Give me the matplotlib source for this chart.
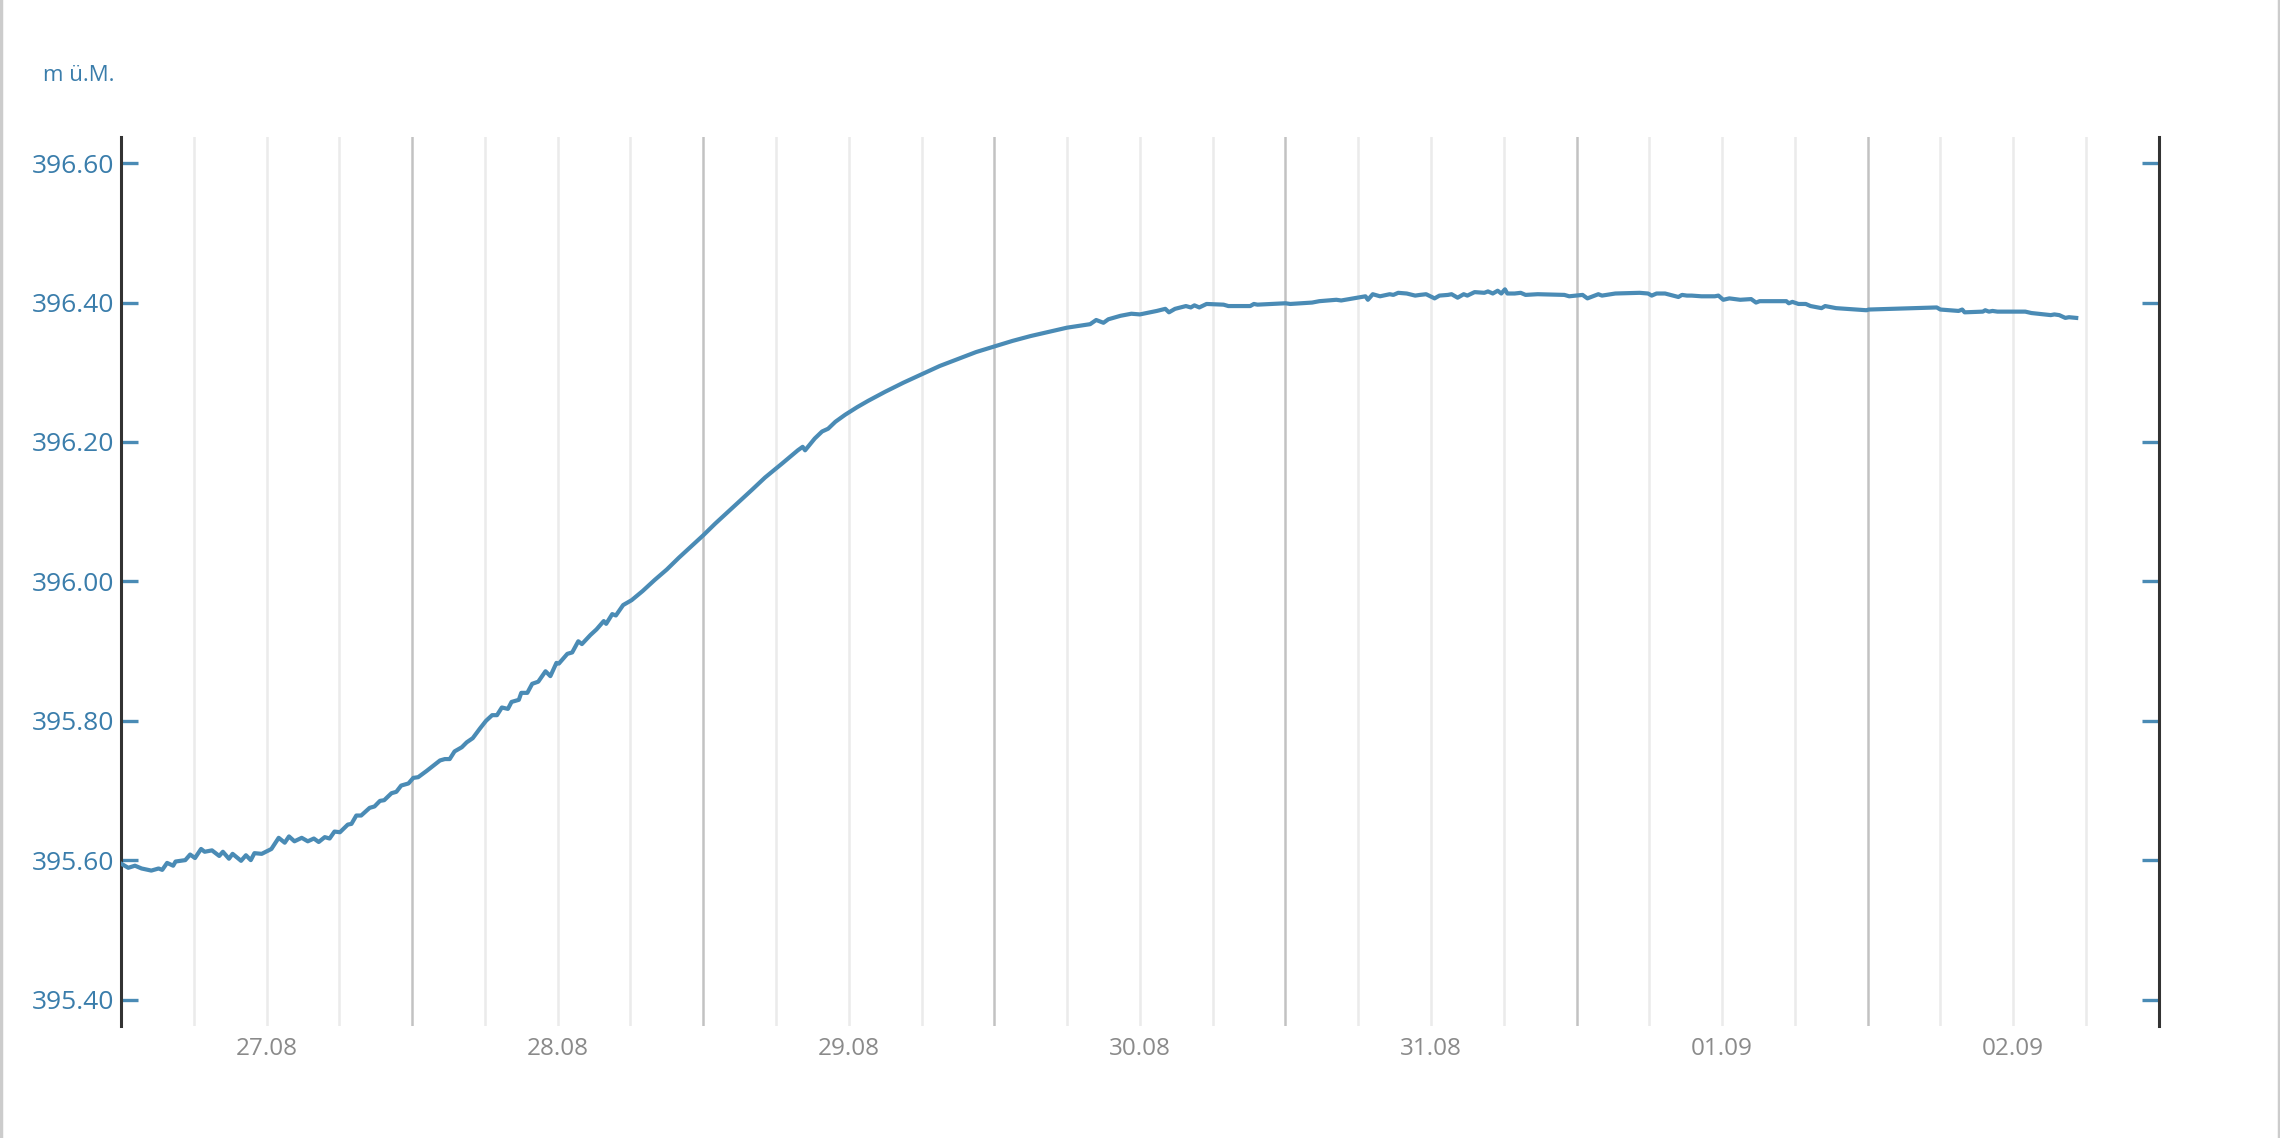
import matplotlib
matplotlib.use("Agg")
import matplotlib.pyplot as plt
from matplotlib.lines import Line2D

plt.rcParams["font.family"] = ["Open Sans", "DejaVu Sans"]

# Stunden ab 27.08 00:00 und Pegel in m ü.M.
zeit_h = [
    0.0, 0.6, 1.15, 1.7, 2.5, 3.1, 3.4, 3.8, 4.3, 4.5, 5.3, 5.7, 6.1, 6.6, 6.9,
    7.5, 8.1, 8.4, 8.9, 9.2, 9.9, 10.3, 10.7, 11.0, 11.6, 12.4, 13.0, 13.5,
    13.85, 14.3, 14.9, 15.4, 15.9, 16.3, 16.8, 17.2, 17.6, 18.05, 18.7, 19.0,
    19.4, 19.8, 20.5, 20.9, 21.35, 21.7, 22.3, 22.7, 23.1, 23.7, 24.1, 24.5,
    25.2, 26.3, 26.7, 27.1, 27.5, 28.1, 28.5, 29.0, 29.6, 30.1, 30.6, 31.0,
    31.4, 31.9, 32.2, 32.8, 33.0, 33.5, 33.9, 34.4, 35.0, 35.4, 35.9, 36.1,
    36.8, 37.2, 37.7, 38.0, 38.7, 39.2, 39.8, 40.0, 40.5, 40.8, 41.4, 42.1,
    43.0, 44.0, 45.0, 46.0, 47.0, 48.0, 49.0, 50.0, 51.0, 52.0, 53.1, 54.5,
    55.8, 56.2, 56.4, 57.2, 57.8, 58.3, 58.9, 59.7, 60.7, 61.6, 63.0, 64.5,
    66.0, 67.5, 69.0, 70.5, 72.0, 73.5, 75.0, 76.5, 78.0, 79.9, 80.4, 81.0,
    81.4, 82.4, 83.3, 84.0, 85.4, 86.1, 86.4, 86.9, 87.8, 88.2, 88.5, 88.9,
    89.5, 90.9, 91.3, 93.1, 93.4, 93.7, 96.0, 96.4, 98.2, 98.8, 100.2, 100.6,
    101.9, 102.6, 102.8, 103.2, 103.8, 104.6, 104.9, 105.3, 106.0, 106.7,
    107.1, 107.6, 108.3, 108.7, 109.4, 109.7, 110.2, 110.7, 111.0, 111.6,
    112.4, 112.7, 113.1, 113.5, 113.8, 114.1, 114.3, 114.9, 115.4, 115.8,
    116.8, 119.0, 119.4, 120.5, 120.9, 121.8, 122.1, 123.2, 125.2, 125.9,
    126.2, 126.6, 127.3, 128.4, 128.7, 129.1, 129.5, 130.3, 131.4, 131.7,
    132.1, 132.6, 133.5, 134.4, 134.8, 135.1, 137.3, 137.5, 137.8, 138.3,
    138.9, 139.3, 140.2, 140.5, 141.4, 143.9, 144.1, 149.7, 150.0, 151.5,
    151.8, 152.0, 153.5, 153.7, 154.0, 154.3, 154.7, 157.0, 157.5, 159.1,
    159.4, 159.8, 160.3, 160.6, 161.2,
]
pegel_m = [
    395.595, 395.589, 395.592, 395.588, 395.585, 395.588, 395.586, 395.596,
    395.592, 395.598, 395.600, 395.608, 395.603, 395.616, 395.612, 395.614,
    395.606, 395.612, 395.602, 395.609, 395.599, 395.607, 395.600, 395.610,
    395.609, 395.616, 395.632, 395.625, 395.634, 395.627, 395.632, 395.627,
    395.631, 395.626, 395.633, 395.631, 395.641, 395.640, 395.651, 395.652,
    395.664, 395.664, 395.675, 395.677, 395.685, 395.686, 395.696, 395.698,
    395.707, 395.710, 395.718, 395.719, 395.728, 395.743, 395.745, 395.745,
    395.756, 395.762, 395.769, 395.775, 395.789, 395.800, 395.808, 395.808,
    395.819, 395.817, 395.827, 395.830, 395.840, 395.840, 395.853, 395.856,
    395.871, 395.864, 395.883, 395.882, 395.896, 395.898, 395.914, 395.910,
    395.923, 395.931, 395.943, 395.939, 395.953, 395.951, 395.966, 395.973,
    395.986, 396.002, 396.017, 396.034, 396.050, 396.066, 396.083, 396.099,
    396.115, 396.131, 396.149, 396.169, 396.188, 396.193, 396.188, 396.205,
    396.215, 396.219, 396.229, 396.239, 396.250, 396.259, 396.272, 396.285,
    396.297, 396.309, 396.319, 396.329, 396.337, 396.345, 396.352, 396.358,
    396.364, 396.369, 396.375, 396.371, 396.376, 396.381, 396.384, 396.383,
    396.388, 396.391, 396.386, 396.391, 396.395, 396.393, 396.396, 396.393,
    396.398, 396.397, 396.395, 396.395, 396.398, 396.397, 396.399, 396.398,
    396.400, 396.402, 396.404, 396.403, 396.407, 396.409, 396.404, 396.412,
    396.409, 396.412, 396.411, 396.414, 396.413, 396.410, 396.411, 396.412,
    396.406, 396.410, 396.411, 396.412, 396.407, 396.412, 396.410, 396.415,
    396.414, 396.416, 396.413, 396.417, 396.413, 396.419, 396.413, 396.413,
    396.414, 396.411, 396.412, 396.411, 396.409, 396.411, 396.406, 396.412,
    396.410, 396.413, 396.414, 396.413, 396.410, 396.413, 396.413, 396.408,
    396.411, 396.410, 396.410, 396.409, 396.409, 396.410, 396.404, 396.406,
    396.404, 396.405, 396.400, 396.402, 396.402, 396.399, 396.401, 396.398,
    396.398, 396.395, 396.392, 396.395, 396.392, 396.389, 396.390, 396.393,
    396.390, 396.388, 396.390, 396.386, 396.387, 396.389, 396.387, 396.388,
    396.387, 396.387, 396.385, 396.382, 396.383, 396.382, 396.378, 396.379,
    396.378,
]

tag_labels = ["27.08", "28.08", "29.08", "30.08", "31.08", "01.09", "02.09"]
y_ticks = [395.40, 395.60, 395.80, 396.00, 396.20, 396.40, 396.60]

blau = "#4a8bb5"
blau_text = "#3a7dab"

fig = plt.figure(figsize=(22.8, 11.38), dpi=100)
ax = fig.add_axes([0.05307, 0.09842, 0.89373, 0.78146])

# vertikale Gitterlinien: alle 6 h hell, um Mitternacht dunkler
for h in range(6, 168, 6):
    if h % 24 == 0:
        ax.axvline(h, color="#c2c2c2", lw=1.8, zorder=1)
    else:
        ax.axvline(h, color="#ebebeb", lw=1.8, zorder=1)

ax.plot(zeit_h, pegel_m, color=blau, lw=3.0, zorder=3, solid_joinstyle="round")

ax.set_xlim(0, 168)
ax.set_ylim(395.362, 396.638)

ax.set_xticks([12 + 24 * i for i in range(len(tag_labels))])
ax.set_xticklabels(tag_labels)
ax.tick_params(axis="x", length=0, pad=8, labelsize=17.5, labelcolor="#8a8a8a")

ax.set_yticks(y_ticks)
ax.set_yticklabels([f"{v:.2f}" for v in y_ticks])
ax.tick_params(axis="y", direction="in", length=12, width=2.4, color=blau,
               pad=5, labelsize=19, labelcolor=blau_text,
               left=True, right=True, labelleft=True, labelright=False)

for seite in ["top", "bottom"]:
    ax.spines[seite].set_visible(False)
for seite in ["left", "right"]:
    ax.spines[seite].set_color("#333333")
    ax.spines[seite].set_linewidth(2.2)

fig.text(0.0189, 0.934, "m ü.M.", color=blau_text, fontsize=16,
         ha="left", va="center")

# Rahmen links und rechts wie in der Vorlage
fig.add_artist(Line2D([0.0006, 0.0006], [0, 1], color="#cccccc", lw=2.5,
                      transform=fig.transFigure))
fig.add_artist(Line2D([0.9994, 0.9994], [0, 1], color="#cccccc", lw=2.5,
                      transform=fig.transFigure))

fig.savefig("out.png", dpi=100, facecolor="white")
